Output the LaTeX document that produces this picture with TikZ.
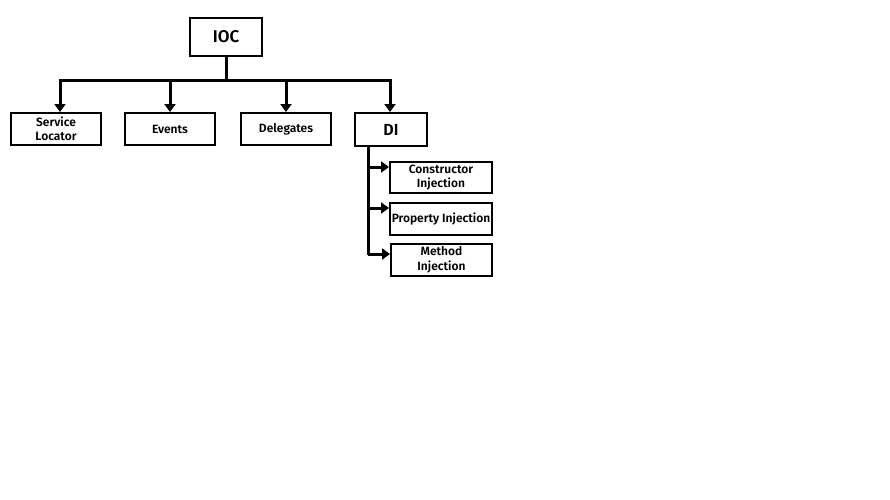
\documentclass[tikz,border=0pt]{standalone}
\usepackage{fontspec}
\setmainfont{Fira Sans}[BoldFont={Fira Sans SemiBold}]
\usetikzlibrary{arrows.meta}
\begin{document}
\begin{tikzpicture}[x=1pt,y=-1pt,
  box/.style={draw, line width=2pt, minimum height=32pt, inner sep=1pt,
    align=center, font=\fontsize{12}{14.5}\selectfont\bfseries},
  conn/.style={line width=3pt, -{Triangle[length=8pt,width=11pt]}},
  plain/.style={line width=3pt}]
\useasboundingbox[fill=white] (0,0) rectangle (890,499);
% root
\node[box, minimum width=72pt, minimum height=38pt, font=\fontsize{17}{19}\selectfont\bfseries] (ioc) at (226,37) {IOC};
% first level
\node[box, minimum width=90pt] (sl) at (56,129) {Service\\Locator};
\node[box, minimum width=90pt] (ev) at (170,129) {Events};
\node[box, minimum width=90pt] (dg) at (286,129) {Delegates};
\node[box, minimum width=72pt, minimum height=33pt, font=\fontsize{16}{18}\selectfont\bfseries] (di) at (391,129.5) {DI};
% second level under DI
\node[box, minimum width=102pt, minimum height=31pt] (ci) at (441,177.5) {Constructor\\Injection};
\node[box, minimum width=102pt, minimum height=32pt] (pi) at (441,219) {Property Injection};
\node[box, minimum width=101pt, minimum height=32pt] (mi) at (441.5,260) {Method\\Injection};
% bus from the root
\coordinate (bus) at (226,80);
\draw[plain] (ioc.south) -- (bus);
\draw[conn] (bus) -| ([xshift=4pt]sl.north);
\draw[conn] (bus) -| (ev.north);
\draw[conn] (bus) -| (dg.north);
\draw[conn] (bus) -| ([xshift=-1pt]di.north);
% spine under DI
\coordinate (sp) at (368,146);
\draw[plain] (sp) -- (368,255);
\draw[conn] (368,167) -- (368,167 -| ci.west);
\draw[conn] (368,208) -- (368,208 -| pi.west);
\draw[conn] (368,254) -- (368,254 -| mi.west);
\end{tikzpicture}
\end{document}
